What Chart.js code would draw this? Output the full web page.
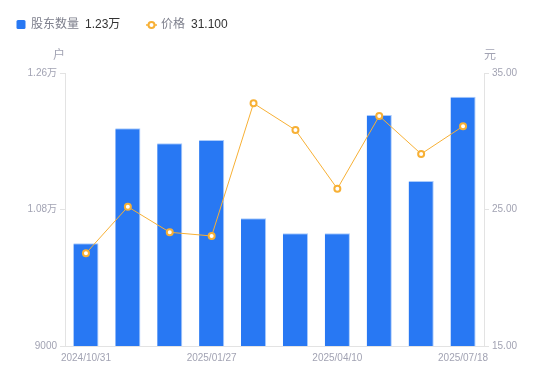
<!DOCTYPE html>
<html>
<head>
<meta charset="utf-8">
<script src="https://cdn.jsdelivr.net/npm/chart.js@4"></script>
<style>
  html, body { margin: 0; padding: 0; background: #fff; }
  #wrap { width: 550px; height: 381px; }
</style>
</head>
<body>
<div id="wrap"><canvas id="holderChart"></canvas></div>
<script>
const dates = ['2024/10/31', '2024/11/29', '2024/12/31', '2025/01/27', '2025/02/28', '2025/03/20', '2025/04/10', '2025/04/30', '2025/06/30', '2025/07/18'];
const holders = [10354, 11871, 11673, 11716, 10684, 10486, 10486, 12046, 11176, 12288];
const prices = [21.79, 25.2, 23.33, 23.06, 32.78, 30.82, 26.52, 31.85, 29.07, 31.1];
const leftTicks = [9000, 10800, 12600];
const rightTicks = [15, 25, 35];

const FONT = '"Liberation Sans", Arial, "Noto Sans CJK SC", sans-serif';
const tickColor = '#a2a3b3';
const axisColor = '#e3e3e3';
const barColor = '#2878f3';
const lineColor = '#f7b035';

const ctx = document.getElementById('holderChart');

new Chart(ctx, {
  data: {
    labels: dates,
    datasets: [
      {
        type: 'line',
        label: '价格',
        data: prices,
        yAxisID: 'y1',
        borderColor: lineColor,
        borderWidth: 1,
        pointRadius: 3,
        pointBorderWidth: 2,
        pointBackgroundColor: '#fff',
        pointBorderColor: lineColor,
        tension: 0,
        order: 0,
      },
      {
        type: 'bar',
        label: '股东数量',
        data: holders,
        yAxisID: 'y',
        backgroundColor: barColor,
        borderColor: 'rgba(150,190,250,0.8)',
        borderWidth: { top: 1, left: 0, right: 1, bottom: 0 },
        borderSkipped: 'bottom',
        categoryPercentage: 1,
        barPercentage: 0.6,
        order: 1,
      },
    ],
  },
  options: {
    responsive: true,
    maintainAspectRatio: false,
    animation: false,
    layout: {
      padding: { top: 73, bottom: 0, left: 0, right: 0 },
    },
    plugins: {
      legend: { display: false },
      tooltip: { enabled: false },
      customTitleLegend: { display: true },
    },
    scales: {
      x: {
        grid: { display: false, drawTicks: false },
        border: { color: axisColor },
        ticks: {
          autoSkip: false,
          maxRotation: 0,
          color: tickColor,
          font: { family: FONT, size: 10 },
          padding: 6,
          callback: (v, i) => (i % 3 === 0 ? dates[i] : ''),
        },
        afterFit(scale) { scale.height = 35; },
      },
      y: {
        position: 'left',
        min: 9000,
        max: 12600,
        afterBuildTicks(scale) {
          scale.ticks = leftTicks.map((v) => ({ value: v }));
        },
        grid: { drawOnChartArea: false, tickLength: 5, color: axisColor },
        border: { color: axisColor },
        ticks: {
          color: tickColor,
          font: { family: FONT, size: 10 },
          padding: 3,
          callback: (v) => (v >= 10000 ? (v / 10000).toFixed(2) + '万' : String(v)),
        },
        afterFit(scale) { scale.width = 65; },
      },
      y1: {
        position: 'right',
        min: 15,
        max: 35,
        afterBuildTicks(scale) {
          scale.ticks = rightTicks.map((v) => ({ value: v }));
        },
        grid: { drawOnChartArea: false, tickLength: 5, color: axisColor },
        border: { color: axisColor },
        ticks: {
          color: tickColor,
          font: { family: FONT, size: 10 },
          padding: 3,
          callback: (v) => Number(v).toFixed(2),
        },
        afterFit(scale) { scale.width = 66; },
      },
    },
  },
  plugins: [
    {
      id: 'customTitleLegend',
      afterDraw(chart) {
        const opts = chart.options.plugins.customTitleLegend;
        if (!opts || !opts.display) return;
        const { ctx, chartArea } = chart;
        ctx.save();
        ctx.textBaseline = 'middle';

        // legend: bars
        const y = 25;
        ctx.fillStyle = barColor;
        ctx.beginPath();
        ctx.roundRect(16.5, 20, 9, 9, 1.5);
        ctx.fill();
        ctx.font = '12px ' + FONT;
        ctx.fillStyle = '#7d7f8c';
        ctx.fillText('股东数量', 31, y);
        ctx.fillStyle = '#333';
        ctx.fillText((holders[holders.length - 1] / 10000).toFixed(2) + '万', 85, y);

        // legend: price line
        ctx.strokeStyle = lineColor;
        ctx.lineWidth = 1.5;
        ctx.beginPath();
        ctx.moveTo(146, y);
        ctx.lineTo(157, y);
        ctx.stroke();
        ctx.beginPath();
        ctx.arc(151.5, y, 3, 0, Math.PI * 2);
        ctx.fillStyle = '#fff';
        ctx.fill();
        ctx.lineWidth = 2;
        ctx.stroke();
        ctx.fillStyle = '#7d7f8c';
        ctx.fillText('价格', 161, y);
        ctx.fillStyle = '#333';
        ctx.fillText(prices[prices.length - 1].toFixed(3), 191, y);

        // axis units
        ctx.fillStyle = tickColor;
        ctx.font = '12px ' + FONT;
        ctx.textAlign = 'center';
        ctx.fillText('户', chartArea.left - 6, 56);
        ctx.fillText('元', chartArea.right + 6, 56);
        ctx.restore();
      },
    },
  ],
});
</script>
</body>
</html>
